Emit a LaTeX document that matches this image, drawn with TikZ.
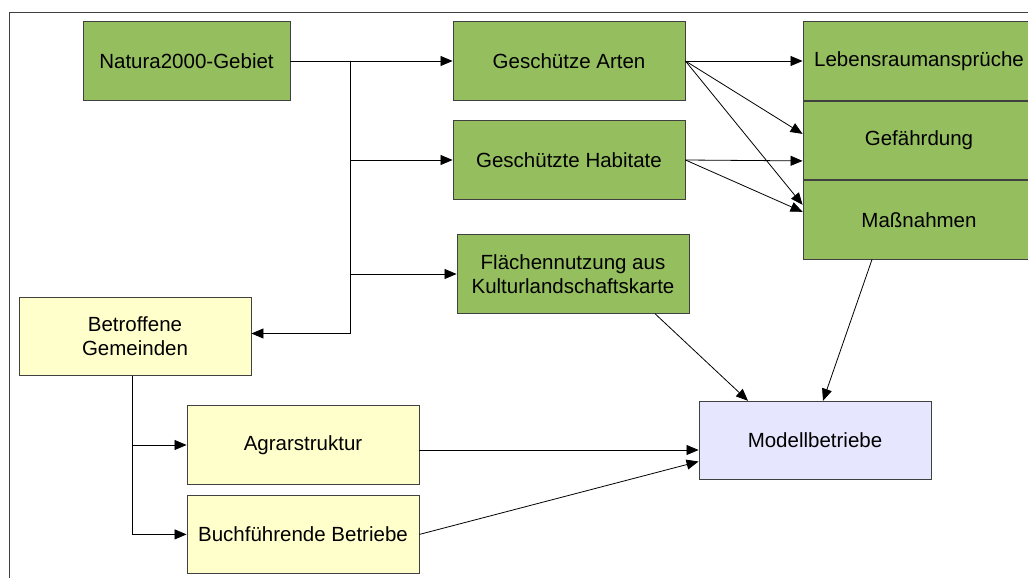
\documentclass[tikz,border=0pt]{standalone}
\usepackage{fontspec}
\setmainfont{Liberation Sans}
\usepackage{xcolor}
\usepackage{tikz}
\usetikzlibrary{positioning,arrows.meta}

\definecolor{gruen}{HTML}{95BE5F}
\definecolor{gelb}{HTML}{FFFFCC}
\definecolor{lila}{HTML}{E6E6FF}
\definecolor{rahmen}{HTML}{404040}

\begin{document}
\begin{tikzpicture}[
    x=1pt, y=-1pt,
    node distance=0pt,
    every node/.style={rectangle, draw=rahmen, line width=0.9pt, align=center, minimum width=232pt, minimum height=78.5pt, inner sep=2pt, font=\fontsize{20.5}{24}\selectfont},
    schutz/.style={fill=gruen},
    region/.style={fill=gelb},
    modell/.style={fill=lila},
    pfeil/.style={-{Triangle[length=12pt,width=10pt]}, line width=0.8pt, black}
]
\useasboundingbox (0,0) rectangle (1028,578);

% Rahmen
\draw [rahmen, line width=1pt] (9,578) -- (9,13) -- (1028,13);

% Schutzgebiet und geschuetzte Gueter
\node (natura) [schutz, minimum width=207pt] at (186.5,61) {Natura2000-Gebiet};
\node (arten) [schutz] at (569,61) {Geschütze Arten};
\node (habitate) [schutz] at (569,160) {Geschützte Habitate};
\node (flaeche) [schutz] at (573,274) {Flächennutzung aus\\Kulturlandschaftskarte};

% Gestapelte Eigenschaften rechts
\node (lebensraum) [schutz] at (919,61) {Lebensraumansprüche};
\node (gefaehrdung) [schutz, below=of lebensraum] {Gefährdung};
\node (massnahmen) [schutz, below=of gefaehrdung] {Maßnahmen};

% Regionale Daten
\node (gemeinden) [region] at (135,336.5) {Betroffene\\Gemeinden};
\node (agrar) [region] at (303,445) {Agrarstruktur};
\node (buchf) [region, below=10pt of agrar] {Buchführende Betriebe};

% Ergebnis
\node (modell) [modell] at (815,440.5) {Modellbetriebe};

% Verzweigung ab Natura2000
\coordinate (split) at (350,61);
\draw [pfeil] (natura) -- (arten);
\draw [pfeil] (split) |- (habitate);
\draw [pfeil] (split) |- (flaeche);
\draw [pfeil] (split) |- ([yshift=3pt]gemeinden.east);

% Arten und Habitate -> Eigenschaften
\draw [pfeil] (arten) -- (lebensraum);
\draw [pfeil] (arten.east) -- ([yshift=6.5pt]gefaehrdung.west);
\draw [pfeil] (arten.east) -- ([yshift=15pt]massnahmen.west);
\draw [pfeil] (habitate.east) -- ([yshift=-20.5pt]gefaehrdung.west);
\draw [pfeil] (habitate.east) -- ([yshift=8pt]massnahmen.west);

% Gemeinden -> Agrarstruktur, Betriebe
\draw [pfeil] ([xshift=-3pt]gemeinden.south) |- (agrar.west);
\draw [pfeil] ([xshift=-3pt]gemeinden.south) |- (buchf.west);

% Zufluesse zu den Modellbetrieben
\draw [pfeil] ([xshift=82pt]flaeche.south) -- ([xshift=-67pt]modell.north);
\draw [pfeil] ([xshift=-47pt]massnahmen.south) -- ([xshift=8pt]modell.north);
\draw [pfeil] ([yshift=-5pt]agrar.east) -- ([yshift=-9.5pt]modell.west);
\draw [pfeil] (buchf.east) -- ([yshift=-21pt]modell.west);

\end{tikzpicture}
\end{document}
